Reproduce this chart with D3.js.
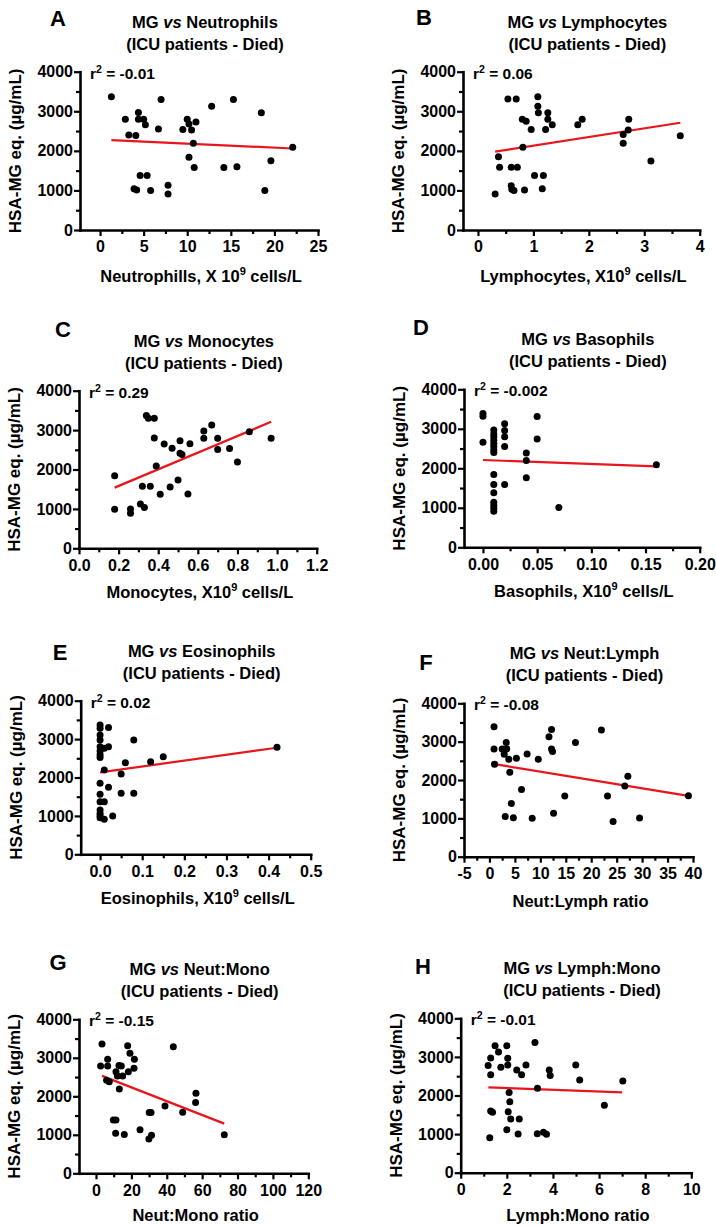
<!DOCTYPE html>
<html><head><meta charset="utf-8">
<script src="https://cdn.jsdelivr.net/npm/d3@7"></script>
<style>
body{margin:0;background:#fff;}
svg text{font-family:"Liberation Sans",Arial,sans-serif;font-weight:bold;fill:#000;}
</style>
</head><body>
<svg id="chart" width="716" height="1227"></svg>
<script>
// ---------- DATA ----------
const panelLetters = ["A","B","C","D","E","F","G","H"];
const titleSubjects = ["Neutrophils","Lymphocytes","Monocytes","Basophils","Eosinophils","Neut:Lymph","Neut:Mono","Lymph:Mono"];
const titleSubtitle = "(ICU patients - Died)";
const yAxisTitle = "HSA-MG eq. (\u00B5g/mL)";
const xTitles = [
  ["Neutrophills, X 10","9"," cells/L"],
  ["Lymphocytes, X10","9"," cells/L"],
  ["Monocytes, X10","9"," cells/L"],
  ["Basophils, X10","9"," cells/L"],
  ["Eosinophils, X10","9"," cells/L"],
  ["Neut:Lymph ratio","",""],
  ["Neut:Mono ratio","",""],
  ["Lymph:Mono ratio","",""]
];
const r2Values = ["-0.01","0.06","0.29","-0.002","0.02","-0.08","-0.15","-0.01"];
const yTicks = [0,1000,2000,3000,4000];
const yMinorTicks = [500,1500,2500,3500];
const xTicksA = [0,5,10,15,20,25];
const xTicksB = [0,1,2,3,4];
const xTicksC = [0,0.2,0.4,0.6,0.8,1.0,1.2];
const xTicksD = [0,0.05,0.10,0.15,0.20];
const xTicksE = [0,0.1,0.2,0.3,0.4,0.5];
const xTicksF = [-5,0,5,10,15,20,25,30,35,40];
const xTicksG = [0,20,40,60,80,100,120];
const xTicksH = [0,2,4,6,8,10];

const dataA = [[1.3,3370],[2.9,2800],[3.3,2400],[4.1,2390],[4.4,2970],[4.4,2800],[5.0,2800],[5.2,2660],[7.0,3300],[6.7,2550],
  [4.6,1380],[5.4,1380],[3.9,1040],[4.2,1010],[5.8,1000],[7.8,1130],[7.8,910],[9.5,2540],[10.0,2800],[10.2,2680],
  [10.5,2530],[11.0,2730],[10.7,2190],[10.2,1840],[10.8,1580],[12.8,3130],[14.2,1580],[15.3,3300],[15.7,1600],[18.5,2960],
  [19.6,1750],[18.9,1000],[22.1,2090]];
const fitA = [[1.3,2270],[22.1,2060]];

const dataB = [[0.54,3310],[0.69,3310],[1.08,3370],[1.08,3130],[1.09,2960],[1.26,2960],[1.26,2800],[1.34,2660],[0.80,2800],[0.87,2745],
  [0.96,2540],[1.22,2540],[1.80,2660],[1.88,2800],[2.62,2410],[2.62,2190],[2.71,2530],[2.72,2800],[3.65,2380],[3.12,1745],
  [0.81,2090],[0.37,1850],[0.39,1585],[0.60,1585],[0.71,1585],[0.60,1120],[0.61,1030],[0.65,1000],[0.84,1010],[1.02,1380],
  [1.18,1380],[1.16,1045],[0.31,910]];
const fitB = [[0.31,1980],[3.65,2710]];

const dataC = [[0.18,1840],[0.18,990],[0.26,1000],[0.26,890],[0.31,1125],[0.33,1035],[0.32,1575],[0.36,1575],[0.34,3370],[0.35,3300],
  [0.38,3300],[0.38,2800],[0.39,2090],[0.41,1370],[0.43,2650],[0.47,2540],[0.50,1735],[0.46,1555],[0.55,1380],[0.51,2730],
  [0.51,2410],[0.52,2380],[0.56,2655],[0.63,2975],[0.63,2790],[0.67,3130],[0.70,2790],[0.70,2510],[0.76,2530],[0.80,2190],
  [0.86,2960],[0.97,2790]];
const fitC = [[0.18,1540],[0.97,3210]];

const dataD = [[0.00,3390],[0.00,3320],[0.00,2660],
  [0.01,2970],[0.01,2870],[0.01,2790],[0.01,2710],[0.01,2630],[0.01,2550],[0.01,2470],[0.01,2400],
  [0.01,1840],[0.01,1590],[0.01,1380],[0.01,1140],[0.01,1060],[0.01,990],[0.01,910],
  [0.02,3130],[0.02,2960],[0.02,2800],[0.02,2550],[0.02,1590],
  [0.04,2390],[0.04,2200],[0.04,1760],[0.05,3310],[0.05,2740],[0.07,1010],[0.16,2090]];
const fitD = [[0.00,2210],[0.16,2050]];

const dataE = [[0.00,3370],[0.00,3280],[0.00,3110],[0.00,2975],[0.00,2800],[0.00,2690],[0.00,2590],[0.00,2520],[0.00,1850],[0.00,1565],
  [0.00,1370],[0.00,1155],[0.00,1065],[0.00,1005],[0.00,955],[0.01,2760],[0.01,2195],[0.01,1370],[0.01,910],[0.02,3305],
  [0.02,2800],[0.02,1745],[0.03,1000],[0.05,2090],[0.05,1590],[0.06,2385],[0.08,2975],[0.08,1590],[0.12,2410],[0.15,2540],
  [0.42,2785]];
const fitE = [[0.00,2135],[0.42,2775]];

const dataF = [[0.9,3390],[0.9,2810],[1.0,2410],[2.5,2810],[2.9,2670],[3.3,2975],[3.4,2810],[3.8,2540],[4.0,2200],[4.3,1390],
  [3.1,1050],[4.7,1015],[5.3,2565],[6.3,1755],[7.4,2680],[9.6,2540],[8.4,1000],[11.7,3130],[12.2,3320],[12.2,2810],
  [12.4,2740],[12.6,1130],[14.8,1585],[16.9,2975],[22.0,3305],[23.2,1585],[24.3,915],[26.6,1845],[27.2,2100],[29.5,1010],
  [39.1,1590]];
const fitF = [[1.0,2415],[39.1,1585]];

const dataG = [[3.4,3360],[2.6,2790],[6.6,2960],[6.6,2790],[6.0,2420],[7.5,2380],[11.3,2640],[13.0,2800],[14.3,2790],[12.1,2530],
  [15.1,2530],[17.9,3310],[19.2,3120],[21.7,2960],[18.3,2640],[21.5,2730],[13.2,2190],[9.8,1385],[11.3,1385],[11.1,1040],
  [16.0,1010],[24.9,1130],[30.1,1580],[31.1,1580],[29.9,890],[31.4,990],[39.0,1750],[49.0,1585],[43.7,3290],[56.5,2080],
  [56.3,1840],[72.5,1000]];
const fitG = [[3.4,2530],[72.5,1290]];

const dataH = [[1.19,2780],[1.30,2970],[1.30,2540],[1.49,3290],[1.64,3130],[1.74,2730],[1.30,1600],[1.38,1565],[1.26,905],[2.00,3290],
  [2.04,2965],[2.04,2790],[2.43,2660],[2.64,2540],[2.83,2790],[2.10,2080],[2.13,1840],[2.06,1580],[2.17,1390],[2.54,1390],
  [2.00,1115],[2.49,1000],[3.22,3370],[3.33,2185],[3.32,1010],[3.59,1045],[3.72,995],[3.84,2660],[3.88,2515],[4.99,2790],
  [5.16,2400],[6.23,1745],[7.03,2375]];
const fitH = [[1.2,2210],[7.0,2080]];

// ---------- LAYOUT (positions / styles) ----------
const hy = f => (v => f(v).replace("\u2212","-"));
const panels = [
  {data:dataA, fit:fitA, ticks:xTicksA, minor:d3.range(2.5,25,5),   dom:[-2.3,25],     fmt:hy(d3.format("d")),   L:80,  R:318,  T:71.7,  B:230,   letter:[58,26],  xtOff:52},
  {data:dataB, fit:fitB, ticks:xTicksB, minor:d3.range(0.5,4,1),    dom:[-0.27,4],     fmt:hy(d3.format("d")),   L:463, R:699.7,T:71.7,  B:230,   letter:[424,25], xtOff:52},
  {data:dataC, fit:fitC, ticks:xTicksC, minor:d3.range(0.1,1.2,0.2),dom:[0,1.2],       fmt:hy(d3.format(".1f")), L:79,  R:316.7,T:390.7, B:548.3, letter:[63,337], xtOff:50},
  {data:dataD, fit:fitD, ticks:xTicksD, minor:d3.range(0.025,0.2,0.05),dom:[-0.0175,0.2],fmt:hy(d3.format(".2f")), L:464, R:699.7,T:389.3, B:547.3, letter:[421,335], xtOff:50},
  {data:dataE, fit:fitE, ticks:xTicksE, minor:d3.range(0.05,0.5,0.1),dom:[-0.046,0.5],fmt:hy(d3.format(".1f")), L:80.7,R:310.7,T:700.7, B:854.3, letter:[60,660], xtOff:50},
  {data:dataF, fit:fitF, ticks:xTicksF, minor:d3.range(-2.5,40,5),  dom:[-5,40],       fmt:hy(d3.format("d")),   L:464, R:693,  T:703.3, B:856.7, letter:[426,670], xtOff:50},
  {data:dataG, fit:fitG, ticks:xTicksG, minor:d3.range(10,120,20),  dom:[-9.6,120],    fmt:hy(d3.format("d")),   L:79,  R:308.3,T:1019.3,B:1173.3,letter:[58,970], xtOff:48},
  {data:dataH, fit:fitH, ticks:xTicksH, minor:d3.range(1,10,2),     dom:[0,10],        fmt:hy(d3.format("d")),   L:460.7,R:691.3,T:1018.3,B:1172.7,letter:[423,974], xtOff:48}
];

const svg = d3.select("#chart");
const RED = "#e8161c";

panels.forEach((p, i) => {
  const x = d3.scaleLinear().domain(p.dom).range([p.L, p.R]);
  const y = d3.scaleLinear().domain([0,4000]).range([p.B, p.T]);
  const g = svg.append("g");

  // x axis
  g.append("g").attr("transform", `translate(0,${p.B})`)
    .call(d3.axisBottom(x).tickValues(p.ticks).tickFormat(p.fmt).tickSize(6).tickSizeOuter(0).tickPadding(5));
  g.append("g").attr("transform", `translate(0,${p.B})`)
    .call(d3.axisBottom(x).tickValues(p.minor).tickFormat("").tickSize(4).tickSizeOuter(0))
    .select(".domain").remove();
  // y axis
  g.append("g").attr("transform", `translate(${p.L},0)`)
    .call(d3.axisLeft(y).tickValues(yTicks).tickFormat(d3.format("d")).tickSize(6).tickSizeOuter(0).tickPadding(1));
  g.append("g").attr("transform", `translate(${p.L},0)`)
    .call(d3.axisLeft(y).tickValues(yMinorTicks).tickFormat("").tickSize(4).tickSizeOuter(0))
    .select(".domain").remove();

  g.selectAll(".domain").attr("stroke","#000").attr("stroke-width",2.6).attr("stroke-linecap","square");
  g.selectAll(".tick line").attr("stroke","#000").attr("stroke-width",2.2);
  g.selectAll(".tick text").style("font-size","16px").style("font-weight","bold")
    .style("font-family","'Liberation Sans',Arial,sans-serif").attr("fill","#000");

  // regression line
  g.append("path").datum(p.fit)
    .attr("d", d3.line().x(d=>x(d[0])).y(d=>y(d[1])))
    .attr("stroke", RED).attr("stroke-width", 2.2).attr("fill","none");

  // points
  g.selectAll("circle.pt").data(p.data).join("circle").attr("class","pt")
    .attr("cx", d=>x(d[0])).attr("cy", d=>y(d[1])).attr("r", 3.5).attr("fill","#000");

  // panel letter
  g.append("text").attr("x", p.letter[0]).attr("y", p.letter[1])
    .attr("text-anchor","middle").style("font-size","22px").text(panelLetters[i]);

  // title
  const cx = (p.L + p.R)/2 + 6;
  const t1 = g.append("text").attr("x", cx).attr("y", p.T - 44).attr("text-anchor","middle").style("font-size","16.5px");
  t1.append("tspan").text("MG ");
  t1.append("tspan").style("font-style","italic").text("vs");
  t1.append("tspan").text(" " + titleSubjects[i]);
  g.append("text").attr("x", cx).attr("y", p.T - 22).attr("text-anchor","middle").style("font-size","16.5px").text(titleSubtitle);

  // r2
  const r = g.append("text").attr("x", p.L + 10).attr("y", p.T + 7).style("font-size","15.5px");
  r.append("tspan").text("r");
  r.append("tspan").attr("dy",-6).style("font-size","10.5px").text("2");
  r.append("tspan").attr("dy",6).text(" = " + r2Values[i]);

  // y title
  g.append("text").attr("transform", `translate(${p.L - 59},${(p.T+p.B)/2}) rotate(-90)`)
    .attr("text-anchor","middle").style("font-size","17px").text(yAxisTitle);

  // x title
  const xt = g.append("text").attr("x", cx - 4).attr("y", p.B + p.xtOff).attr("text-anchor","middle").style("font-size","16.5px");
  xt.append("tspan").text(xTitles[i][0]);
  if (xTitles[i][1]) {
    xt.append("tspan").attr("dy",-7).style("font-size","11px").text(xTitles[i][1]);
    xt.append("tspan").attr("dy",7).text(xTitles[i][2]);
  }
});
</script>
</body></html>
